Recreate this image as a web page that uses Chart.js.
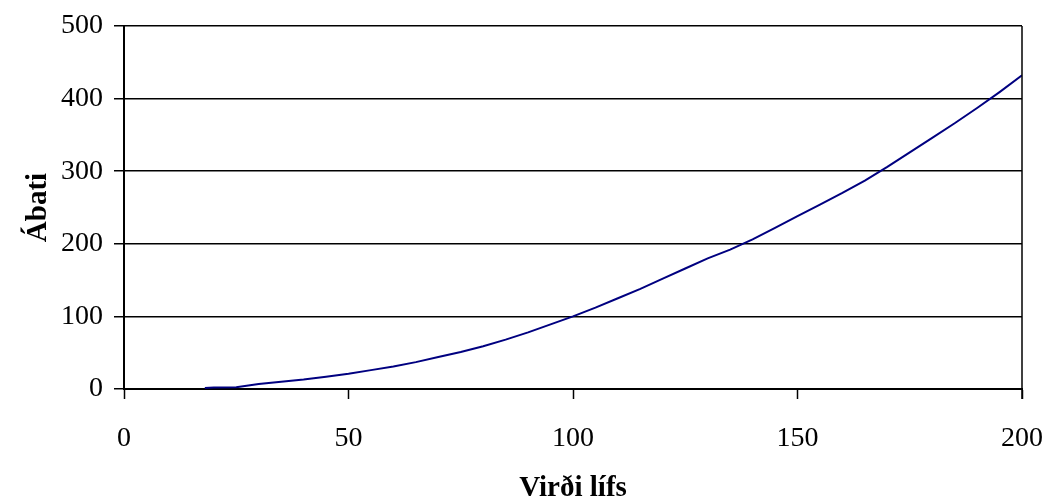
<!DOCTYPE html>
<html>
<head>
<meta charset="utf-8">
<script src="https://cdn.jsdelivr.net/npm/chart.js@4.4.1/dist/chart.umd.min.js"></script>
<style>
  body { margin: 0; background: #fff; }
  #wrap { width: 1048px; height: 501px; }
</style>
</head>
<body>
<div id="wrap"><canvas id="chart" width="1048" height="501"></canvas></div>
<script>
'use strict'

// values
var lifeValue = [18, 20, 25, 30, 35, 40, 45, 50, 55, 60, 65, 70, 75, 80, 85, 90, 95, 100,
  105, 110, 115, 120, 125, 130, 135, 140, 145, 150, 155, 160, 165, 170, 175, 180, 185, 190, 195, 200];
var benefit = [1.5, 2, 2.5, 7, 10, 13, 17, 21, 26, 31, 37, 44, 51, 59, 68, 78, 89, 100,
  112, 125, 138, 152, 166, 180, 192, 206, 222, 238, 254, 270, 287, 306, 326, 346, 366, 387, 409, 432];
var xTicks = [0, 50, 100, 150, 200];
var yTicks = [0, 100, 200, 300, 400, 500];

var xTitle = 'Virði lífs';
var yTitle = 'Ábati';

var serif = 'Liberation Serif';

// build points for the line
var points = [];
for (let i = 0; i < lifeValue.length; i++) {
  points.push({ x: lifeValue[i], y: benefit[i] });
}

//-------------- right edge of the plot frame --------------//
var frame = {
  id: 'frame',
  afterDraw: function(chart) {
    let ctx = chart.ctx;
    let a = chart.chartArea;
    ctx.save();
    ctx.strokeStyle = '#000';
    ctx.lineWidth = 1.5;
    ctx.beginPath();
    ctx.moveTo(a.right, a.top);
    ctx.lineTo(a.right, a.bottom + 10);
    ctx.stroke();
    ctx.restore();
  }
};

var ctx = document.getElementById('chart').getContext('2d');
var benefitChart = new Chart(ctx, {
  type: 'line',
  data: {
    datasets: [{
      data: points,
      borderColor: '#000080',
      borderWidth: 2,
      pointRadius: 0,
      tension: 0,
      fill: false
    }]
  },
  plugins: [frame],
  options: {
    responsive: false,
    animation: false,
    devicePixelRatio: 1,
    layout: { padding: { top: 26, right: 26, left: 0, bottom: 0 } },
    plugins: {
      legend: { display: false },
      tooltip: { enabled: false }
    },
    scales: {
      x: {
        type: 'linear',
        min: 0,
        max: 200,
        afterBuildTicks: function(scale) {
          scale.ticks = xTicks.map(function(v) { return { value: v }; });
        },
        afterFit: function(scale) {
          scale.height = 112;
          scale.paddingLeft = 0;
          scale.paddingRight = 0;
        },
        grid: {
          drawOnChartArea: false,
          drawTicks: true,
          tickLength: 10,
          tickColor: '#000',
          tickWidth: 1.5
        },
        border: { display: true, color: '#000', width: 2 },
        ticks: {
          color: '#000',
          padding: 23,
          maxRotation: 0,
          font: { family: serif, size: 28 }
        },
        title: {
          display: true,
          text: xTitle,
          color: '#000',
          padding: { top: 0, bottom: -5 },
          font: { family: serif, size: 29, weight: 'bold' }
        }
      },
      y: {
        min: 0,
        max: 500,
        afterBuildTicks: function(scale) {
          scale.ticks = yTicks.map(function(v) { return { value: v }; });
        },
        afterFit: function(scale) {
          scale.width = 124;
          scale.paddingTop = 0;
          scale.paddingBottom = 0;
        },
        grid: {
          color: '#000',
          lineWidth: 1.5,
          drawTicks: true,
          tickLength: 10,
          tickColor: '#000'
        },
        border: { display: true, color: '#000', width: 2 },
        ticks: {
          color: '#000',
          padding: 11,
          font: { family: serif, size: 28 }
        },
        title: {
          display: true,
          text: yTitle,
          color: '#000',
          padding: { top: 21, bottom: 0 },
          font: { family: serif, size: 29, weight: 'bold' }
        }
      }
    }
  }
});
</script>
</body>
</html>
